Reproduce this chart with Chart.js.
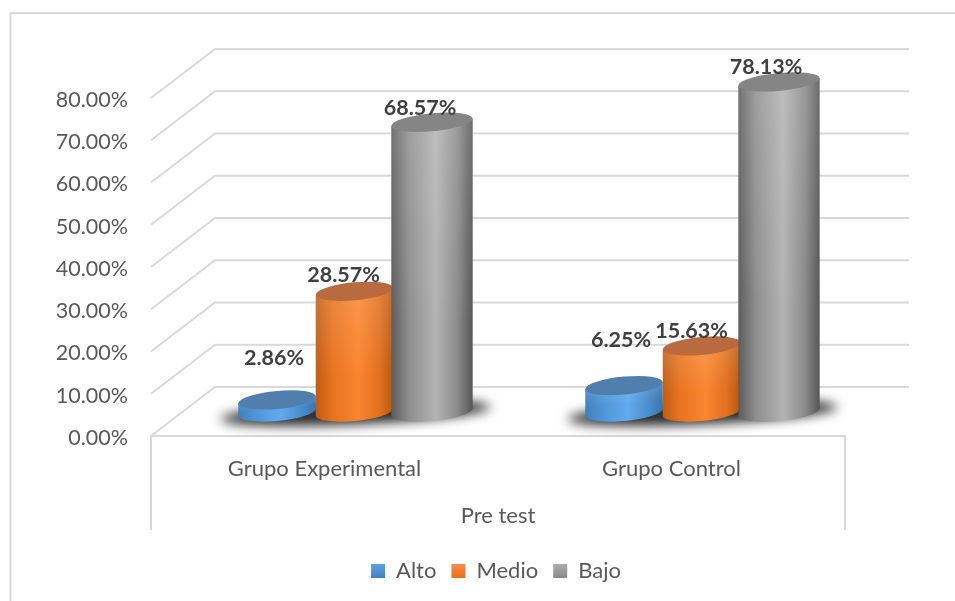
<!DOCTYPE html>
<html>
<head>
<meta charset="utf-8">
<title>Pre test</title>
<script src="https://cdn.jsdelivr.net/npm/chart.js@4/dist/chart.umd.js"></script>
<style>
  html, body { margin: 0; padding: 0; background: #fff; }
  canvas { display: block; }
</style>
</head>
<body>
<canvas id="chart" width="955" height="601"></canvas>
<script>
const categories = ['Grupo Experimental', 'Grupo Control'];
const axisTitle = 'Pre test';
const seriesNames = ['Alto', 'Medio', 'Bajo'];
const alto = [2.86, 6.25];
const medio = [28.57, 15.63];
const bajo = [68.57, 78.13];

// look of the fake 3d, not data
const WALL_X = 64, WALL_Y = -49;      /* back wall offset from front plane */
const BAR_X = 30, BAR_Y = -24;        /* cylinders stand half way in the depth */
const TILT = -0.09;                   /* ellipses lean up to the right */
const CAP_RY = 9;
const LINE = '#d9d9d9';
const FONT = 'Lato, Carlito, sans-serif';
const palettes = [
  { side: ['#3f80bf', '#4f94d6', '#62abee', '#4a8ccb', '#3a75ae'], cap: '#507fae', flat: '#5b9bd5', legend: ['#5fa5e3', '#3f83c4'] },
  { side: ['#c05c14', '#e8731f', '#fb8630', '#e2701f', '#b9570f'], cap: '#b96a3e', flat: '#ed7d31', legend: ['#f58f52', '#ee7018'] },
  { side: ['#5c5c5c', '#8f8f8f', '#b3b3b3', '#8a8a8a', '#565656'], cap: '#858585', flat: '#a5a5a5', legend: ['#b0b0b0', '#8c8c8c'] }
];
const labelOffsets = [
  [[-3, -42], [-3, -46]],
  [[-11, -16], [-10, -15]],
  [[-12, -14], [-13, -15]]
];

function pct(v) { return v.toFixed(2) + '%'; }

function sideGradient(ctx, cx, w, stops) {
  const g = ctx.createLinearGradient(cx - w / 2, 0, cx + w / 2, 0);
  [0, 0.22, 0.55, 0.82, 1].forEach((p, i) => g.addColorStop(p, stops[i]));
  return g;
}

function drawCylinder(ctx, el, pal) {
  const w = el.width, cx = el.x;
  const fill = sideGradient(ctx, cx, w, pal.side);
  ctx.save();
  ctx.translate(BAR_X, BAR_Y);
  ctx.transform(1, TILT, 0, 1, 0, -TILT * cx);   /* shear so rect and caps lean together */

  ctx.fillStyle = fill;
  ctx.beginPath();
  ctx.ellipse(cx, el.base, w / 2, CAP_RY, 0, 0, Math.PI * 2);
  ctx.fill();

  el.options = Object.assign({}, el.options, { backgroundColor: fill, borderWidth: 0 });
  el.draw(ctx);

  // lighter toward the top of the body
  const sheen = ctx.createLinearGradient(0, el.y, 0, el.base);
  sheen.addColorStop(0, 'rgba(255,255,255,0.14)');
  sheen.addColorStop(0.7, 'rgba(255,255,255,0)');
  ctx.fillStyle = sheen;
  ctx.fillRect(cx - w / 2, el.y, w, el.base - el.y);

  ctx.fillStyle = pal.cap;
  ctx.beginPath();
  ctx.ellipse(cx, el.y, w / 2, CAP_RY, 0, 0, Math.PI * 2);
  ctx.fill();
  ctx.restore();
}

const cylinder3d = {
  id: 'cylinder3d',
  afterLayout(chart) {
    chart.legend.left = 147;   /* legend sits centred under the plot box, not the canvas */
  },
  beforeDraw(chart) {
    const ctx = chart.ctx;
    ctx.save();
    ctx.strokeStyle = LINE;
    ctx.lineWidth = 2;
    ctx.beginPath();
    ctx.moveTo(10.5, 601);
    ctx.lineTo(10.5, 13);
    ctx.lineTo(955, 13);
    ctx.stroke();
    ctx.restore();
  },
  beforeDatasetsDraw(chart) {
    const ctx = chart.ctx, y = chart.scales.y, a = chart.chartArea;
    ctx.save();
    ctx.strokeStyle = LINE;
    ctx.lineWidth = 2;
    y.ticks.forEach(t => {
      const py = y.getPixelForValue(t.value);
      ctx.beginPath();
      ctx.moveTo(a.left, py);
      ctx.lineTo(a.left + WALL_X, py + WALL_Y);
      ctx.lineTo(a.right + WALL_X, py + WALL_Y);
      ctx.stroke();
    });
    // floor edge and the box round the category labels
    ctx.beginPath();
    ctx.moveTo(a.left, 530);
    ctx.lineTo(a.left, a.bottom);
    ctx.lineTo(a.right, a.bottom);
    ctx.lineTo(a.right, 530);
    ctx.stroke();
    ctx.restore();
  },
  beforeDatasetDraw() { return false; },   /* cylinders are all drawn below, in order */
  afterDatasetsDraw(chart) {
    const ctx = chart.ctx;
    const metas = chart.data.datasets.map((d, i) => chart.getDatasetMeta(i));

    categories.forEach((c, i) => {
      const mid = metas[1].data[i];
      ctx.save();
      ctx.filter = 'blur(6px)';
      ctx.fillStyle = 'rgba(0,0,0,0.85)';
      ctx.beginPath();
      ctx.ellipse(mid.x + BAR_X + 1, mid.base + BAR_Y + 1, 135, 11, TILT / 2, 0, Math.PI * 2);
      ctx.fill();
      ctx.restore();
    });

    metas.forEach((meta, d) => meta.data.forEach(el => drawCylinder(ctx, el, palettes[d])));

    ctx.save();
    ctx.font = 'bold 21.5px ' + FONT;
    ctx.fillStyle = '#404040';
    ctx.textAlign = 'center';
    ctx.textBaseline = 'middle';
    metas.forEach((meta, d) => meta.data.forEach((el, i) => {
      const off = labelOffsets[d][i];
      ctx.fillText(pct(chart.data.datasets[d].data[i]), el.x + BAR_X + off[0], el.y + BAR_Y + off[1]);
    }));
    ctx.restore();
  }
};

const ctx = document.getElementById('chart').getContext('2d');
const seriesValues = [alto, medio, bajo];

new Chart(ctx, {
  type: 'bar',
  data: {
    labels: categories,
    datasets: seriesNames.map((name, i) => ({
      label: name,
      data: seriesValues[i],
      backgroundColor: palettes[i].flat,
      barPercentage: i === 2 ? 1.05 : 1,
      categoryPercentage: 0.67
    }))
  },
  options: {
    responsive: false,
    animation: false,
    layout: { padding: { left: 0, right: 110, top: 98, bottom: 9 } },
    scales: {
      x: {
        grid: { display: false },
        border: { display: false },
        ticks: { color: '#595959', font: { family: FONT, size: 22 }, padding: 12, maxRotation: 0 },
        title: {
          display: true,
          text: axisTitle,
          color: '#595959',
          font: { family: FONT, size: 22 },
          padding: { top: 0, bottom: 16 }
        },
        afterFit(s) { s.height = 109; }
      },
      y: {
        min: 0,
        max: 80,
        grid: { display: false, drawTicks: false },
        border: { display: false },
        ticks: {
          stepSize: 10,
          padding: 23,
          labelOffset: 2,
          color: '#595959',
          font: { family: FONT, size: 21.5 },
          callback: v => pct(v)
        },
        afterFit(s) { s.width = 151; }
      }
    },
    plugins: {
      title: { display: false },
      tooltip: { enabled: false },
      legend: {
        position: 'bottom',
        labels: {
          boxWidth: 14,
          boxHeight: 14,
          padding: 15,
          color: '#595959',
          font: { family: FONT, size: 22 },
          generateLabels(chart) {
            return seriesNames.map((name, i) => {
              const g = chart.ctx.createLinearGradient(0, 563, 0, 577);
              g.addColorStop(0, palettes[i].legend[0]);
              g.addColorStop(1, palettes[i].legend[1]);
              return { text: name, fillStyle: g, strokeStyle: g, lineWidth: 0, datasetIndex: i, fontColor: '#595959' };
            });
          }
        }
      }
    }
  },
  plugins: [cylinder3d]
});
</script>
</body>
</html>
